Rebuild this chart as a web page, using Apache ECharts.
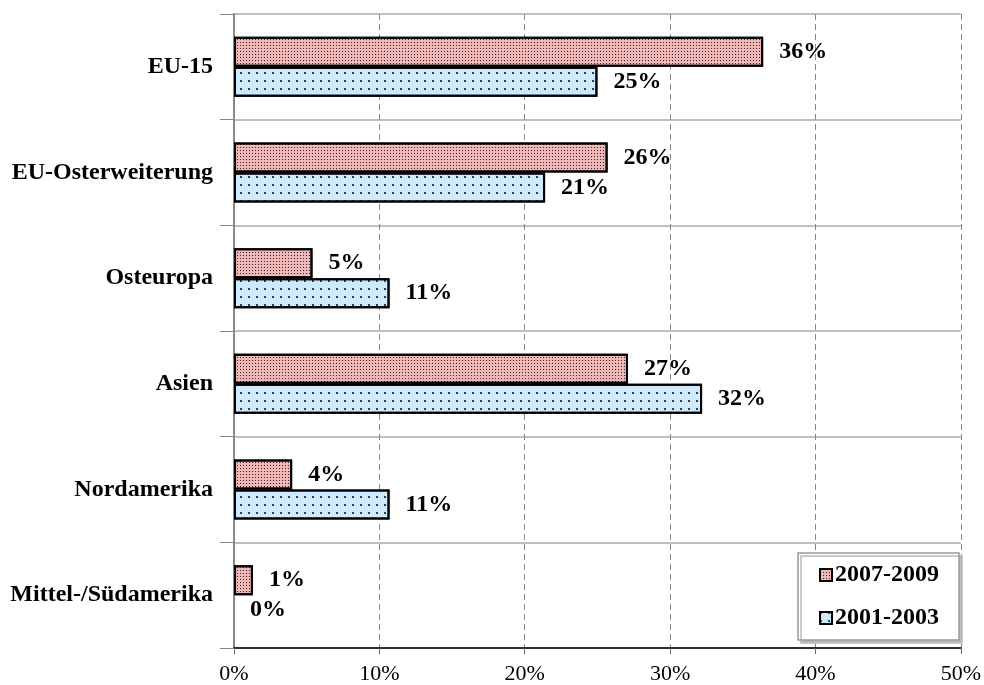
<!DOCTYPE html>
<html>
<head>
<meta charset="utf-8">
<script src="https://cdn.jsdelivr.net/npm/echarts@6/dist/echarts.min.js"></script>
<style>
html, body { margin: 0; padding: 0; background: #fff; }
#chart { width: 984px; height: 685px; }
</style>
</head>
<body>
<div id="chart"></div>
<script>
"use strict";
var categories = ["EU-15", "EU-Osterweiterung", "Osteuropa", "Asien", "Nordamerika", "Mittel-/Südamerika"];
var seriesNames = ["2007-2009", "2001-2003"];
var values0709 = [36.4, 25.7, 5.4, 27.1, 4.0, 1.3];
var values0103 = [25.0, 21.4, 10.7, 32.2, 10.7, 0.0];
var xTicks = [0, 10, 20, 30, 40, 50];

var serif = "'Liberation Serif', 'Times New Roman', serif";

//0-Werte ohne Rahmen zeichnen
function toItems(data) {
    return data.map(function (v) {
        if (v === 0) {
            return { value: v, itemStyle: { borderWidth: 0 } };
        }
        return v;
    });
}

function makeSeries(name, data, color, decal) {
    return {
        name: name,
        type: 'bar',
        data: toItems(data),
        barWidth: 30,
        barGap: '0%',
        itemStyle: {
            color: color,
            borderColor: '#000',
            borderWidth: 2,
            decal: decal
        },
        label: {
            show: true,
            position: 'right',
            distance: 16,
            fontFamily: serif,
            fontWeight: 'bold',
            fontSize: 24,
            color: '#000',
            formatter: function (p) { return Math.round(p.value) + '%'; }
        }
    };
}

var myChart = echarts.init(document.getElementById('chart'));
myChart.setOption({
    animation: false,
    grid: { left: 234, right: 22, top: 14, bottom: 37 },
    legend: {
        data: seriesNames,
        orient: 'vertical',
        right: 25,
        bottom: 45,
        padding: [10, 20, 10, 21],
        itemGap: 19,
        itemWidth: 12,
        itemHeight: 12,
        icon: 'rect',
        backgroundColor: '#fff',
        borderColor: '#999',
        borderWidth: 1.5,
        shadowColor: '#bbb',
        shadowBlur: 0,
        shadowOffsetX: 3,
        shadowOffsetY: 3,
        textStyle: { fontFamily: serif, fontWeight: 'bold', fontSize: 24, color: '#000', padding: [0, 0, 0, -2] }
    },
    xAxis: {
        type: 'value',
        min: xTicks[0],
        max: xTicks[xTicks.length - 1],
        interval: 10,
        axisLine: { show: true, lineStyle: { color: '#000', width: 1.5 } },
        axisTick: { show: true, length: 6, lineStyle: { color: '#666' } },
        axisLabel: {
            margin: 15,
            fontFamily: serif,
            fontSize: 22,
            color: '#000',
            formatter: '{value}%'
        },
        splitLine: { show: true, lineStyle: { color: '#888', type: [6, 4], width: 1 } }
    },
    yAxis: {
        type: 'category',
        data: categories,
        inverse: true,
        axisLine: { show: true, lineStyle: { color: '#888', width: 2 } },
        axisTick: { show: true, length: 14, lineStyle: { color: '#888' } },
        axisLabel: {
            margin: 21,
            fontFamily: serif,
            fontWeight: 'bold',
            fontSize: 24,
            color: '#000'
        },
        splitLine: { show: true, lineStyle: { color: '#aaa', width: 1.5 } }
    },
    series: [
        makeSeries(seriesNames[0], values0709, '#efb8b8', {
            symbol: 'rect',
            symbolSize: 1,
            color: 'rgba(60,20,20,0.95)',
            dashArrayX: [1, 2],
            dashArrayY: [1, 2],
            rotation: 0
        }),
        makeSeries(seriesNames[1], values0103, '#cdeafe', {
            symbol: 'rect',
            symbolSize: 1,
            color: 'rgba(30,30,30,0.85)',
            dashArrayX: [2, 6],
            dashArrayY: [2, 6],
            rotation: 0
        })
    ]
});
</script>
</body>
</html>
